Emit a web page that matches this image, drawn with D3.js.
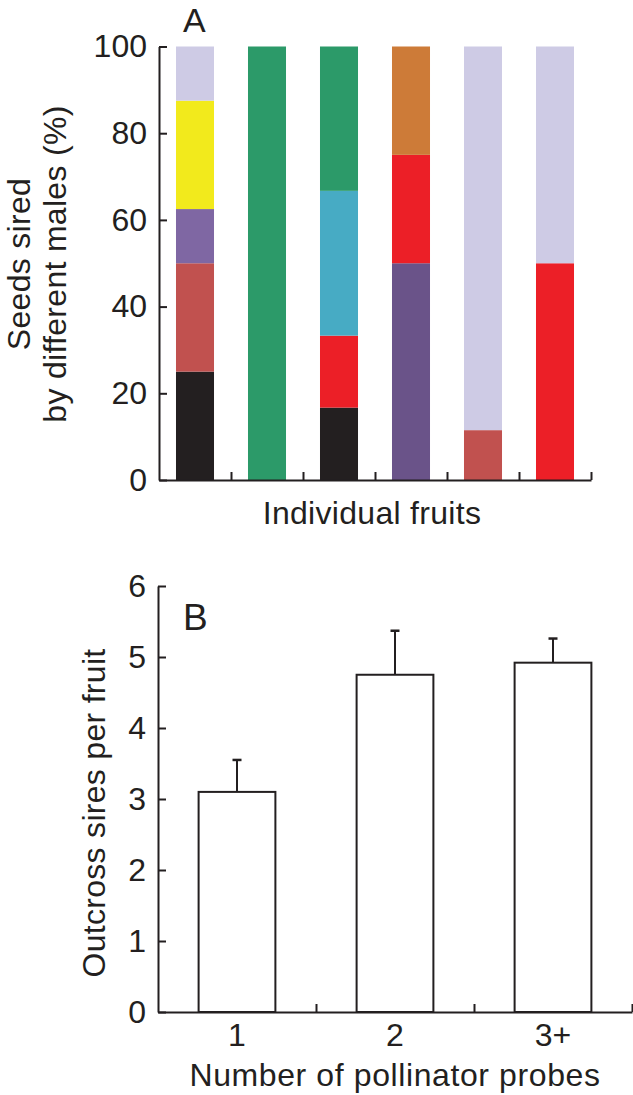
<!DOCTYPE html>
<html>
<head>
<meta charset="utf-8">
<script src="https://cdn.jsdelivr.net/npm/d3@7"></script>
<style>
  html, body { margin: 0; padding: 0; background: #fff; }
  svg { display: block; }
  text { font-family: "Liberation Sans", Arial, Helvetica, sans-serif; fill: #231f20; }
</style>
</head>
<body>
<svg id="chart" width="633" height="1095"></svg>
<script>
// ---------- Panel A data ----------
const fruitLabels = ["1", "2", "3", "4", "5", "6"];
const fruitSires = [
  ["S1", "S2", "S3", "S4", "S5"],
  ["S6"],
  ["S1", "S7", "S8", "S6"],
  ["S9", "S7", "S10"],
  ["S2", "S5"],
  ["S7", "S5"]
];
const fruitShares = [
  [25, 25, 12.5, 25, 12.5],
  [100],
  [16.7, 16.6, 33.4, 33.3],
  [50, 25, 25],
  [11.5, 88.5],
  [50, 50]
];
const pctTicks = [0, 20, 40, 60, 80, 100];

// ---------- Panel B data ----------
const probeCats = ["1", "2", "3+"];
const siresMean = [3.1, 4.75, 4.92];
const siresSE = [0.45, 0.62, 0.34];
const siresTicks = [0, 1, 2, 3, 4, 5, 6];

// ---------- styles ----------
const sireColor = d3.scaleOrdinal()
  .domain(["S1", "S2", "S3", "S4", "S5", "S6", "S7", "S8", "S9", "S10"])
  .range(["#231f20", "#c1514f", "#7f67a3", "#f2ea1c", "#cecbe5",
          "#2c9a69", "#ec1f27", "#47abc4", "#6a5389", "#cd7b38"]);
const ink = "#231f20";
const tickFont = 32;
const labelFont = 32;

const svg = d3.select("#chart");

function styleAxis(g) {
  g.selectAll(".domain").attr("stroke", ink).attr("stroke-width", 2);
  g.selectAll(".tick line").attr("stroke", ink).attr("stroke-width", 2);
  g.selectAll(".tick text").attr("fill", ink).style("font-size", tickFont + "px")
    .style("font-family", "'Liberation Sans', Arial, sans-serif");
}

// ================= Panel A =================
const yA = d3.scaleLinear().domain([0, 100]).range([480, 46.5]);
const xA = d3.scaleBand().domain(fruitLabels).range([159, 591])
  .paddingInner(0.472).paddingOuter(0.236);
const xAline = d3.scaleLinear().domain([0, fruitLabels.length]).range([159, 591]);

const stacksA = fruitLabels.map((f, i) => {
  let acc = 0;
  return fruitShares[i].map((v, j) => {
    const seg = { fruit: f, sire: fruitSires[i][j], y0: acc, y1: acc + v };
    acc += v;
    return seg;
  });
}).flat();

svg.append("g").selectAll("rect").data(stacksA).join("rect")
  .attr("x", d => xA(d.fruit))
  .attr("width", xA.bandwidth())
  .attr("y", d => yA(Math.min(100, d.y1)))
  .attr("height", d => yA(d.y0) - yA(Math.min(100, d.y1)))
  .attr("fill", d => sireColor(d.sire));

svg.append("g").attr("transform", "translate(159,0)")
  .call(d3.axisLeft(yA).tickValues(pctTicks).tickFormat(d3.format("d"))
    .tickSize(-8).tickSizeOuter(0).tickPadding(12))
  .call(styleAxis);

svg.append("g").attr("transform", "translate(0,480)")
  .call(d3.axisBottom(xAline).tickValues(d3.range(1, fruitLabels.length + 1))
    .tickSize(-8).tickSizeOuter(0).tickFormat(""))
  .call(styleAxis);

svg.append("text").attr("x", 183).attr("y", 32)
  .style("font-size", "34px").text("A");

svg.append("text").attr("x", 372).attr("y", 524).attr("text-anchor", "middle")
  .style("font-size", labelFont + "px").style("letter-spacing", "0.3px")
  .text("Individual fruits");

svg.append("text").attr("transform", "translate(30,264) rotate(-90)")
  .attr("text-anchor", "middle").style("font-size", labelFont + "px")
  .style("letter-spacing", "0.3px").text("Seeds sired");
svg.append("text").attr("transform", "translate(66,264) rotate(-90)")
  .attr("text-anchor", "middle").style("font-size", labelFont + "px")
  .style("letter-spacing", "0.3px").text("by different males (%)");

// ================= Panel B =================
const yB = d3.scaleLinear().domain([0, 6]).range([1012, 586]);
const xB = d3.scaleBand().domain(probeCats).range([158, 632])
  .paddingInner(0.514).paddingOuter(0.257);
const xBline = d3.scaleLinear().domain([0, probeCats.length]).range([158, 632]);

const barsB = probeCats.map((c, i) => ({ cat: c, mean: siresMean[i], se: siresSE[i] }));

// error bars (upper only)
const eb = svg.append("g");
eb.selectAll("line.v").data(barsB).join("line").attr("class", "v")
  .attr("x1", d => xB(d.cat) + xB.bandwidth() / 2)
  .attr("x2", d => xB(d.cat) + xB.bandwidth() / 2)
  .attr("y1", d => yB(d.mean)).attr("y2", d => yB(d.mean + d.se))
  .attr("stroke", ink).attr("stroke-width", 2);
eb.selectAll("line.c").data(barsB).join("line").attr("class", "c")
  .attr("x1", d => xB(d.cat) + xB.bandwidth() / 2 - 4.5)
  .attr("x2", d => xB(d.cat) + xB.bandwidth() / 2 + 4.5)
  .attr("y1", d => yB(d.mean + d.se)).attr("y2", d => yB(d.mean + d.se))
  .attr("stroke", ink).attr("stroke-width", 2.5);

svg.append("g").selectAll("rect").data(barsB).join("rect")
  .attr("x", d => xB(d.cat))
  .attr("width", xB.bandwidth())
  .attr("y", d => yB(d.mean))
  .attr("height", d => yB(0) - yB(d.mean))
  .attr("fill", "#fff").attr("stroke", ink).attr("stroke-width", 2);

svg.append("g").attr("transform", "translate(158,0)")
  .call(d3.axisLeft(yB).tickValues(siresTicks).tickFormat(d3.format("d"))
    .tickSize(-8).tickSizeOuter(0).tickPadding(12))
  .call(styleAxis);

svg.append("g").attr("transform", "translate(0,1012)")
  .call(d3.axisBottom(xBline).tickValues(d3.range(1, probeCats.length + 1))
    .tickSize(-8).tickSizeOuter(0).tickFormat(""))
  .call(styleAxis);

svg.append("g").selectAll("text").data(probeCats).join("text")
  .attr("x", d => xB(d) + xB.bandwidth() / 2).attr("y", 1046)
  .attr("text-anchor", "middle").style("font-size", tickFont + "px")
  .text(d => d);

svg.append("text").attr("x", 183).attr("y", 630)
  .style("font-size", "37px").text("B");

svg.append("text").attr("x", 395).attr("y", 1086).attr("text-anchor", "middle")
  .style("font-size", labelFont + "px").style("letter-spacing", "0.6px")
  .text("Number of pollinator probes");

svg.append("text").attr("transform", "translate(105,813) rotate(-90)")
  .attr("text-anchor", "middle").style("font-size", labelFont + "px")
  .style("letter-spacing", "0.3px").text("Outcross sires per fruit");
</script>
</body>
</html>
